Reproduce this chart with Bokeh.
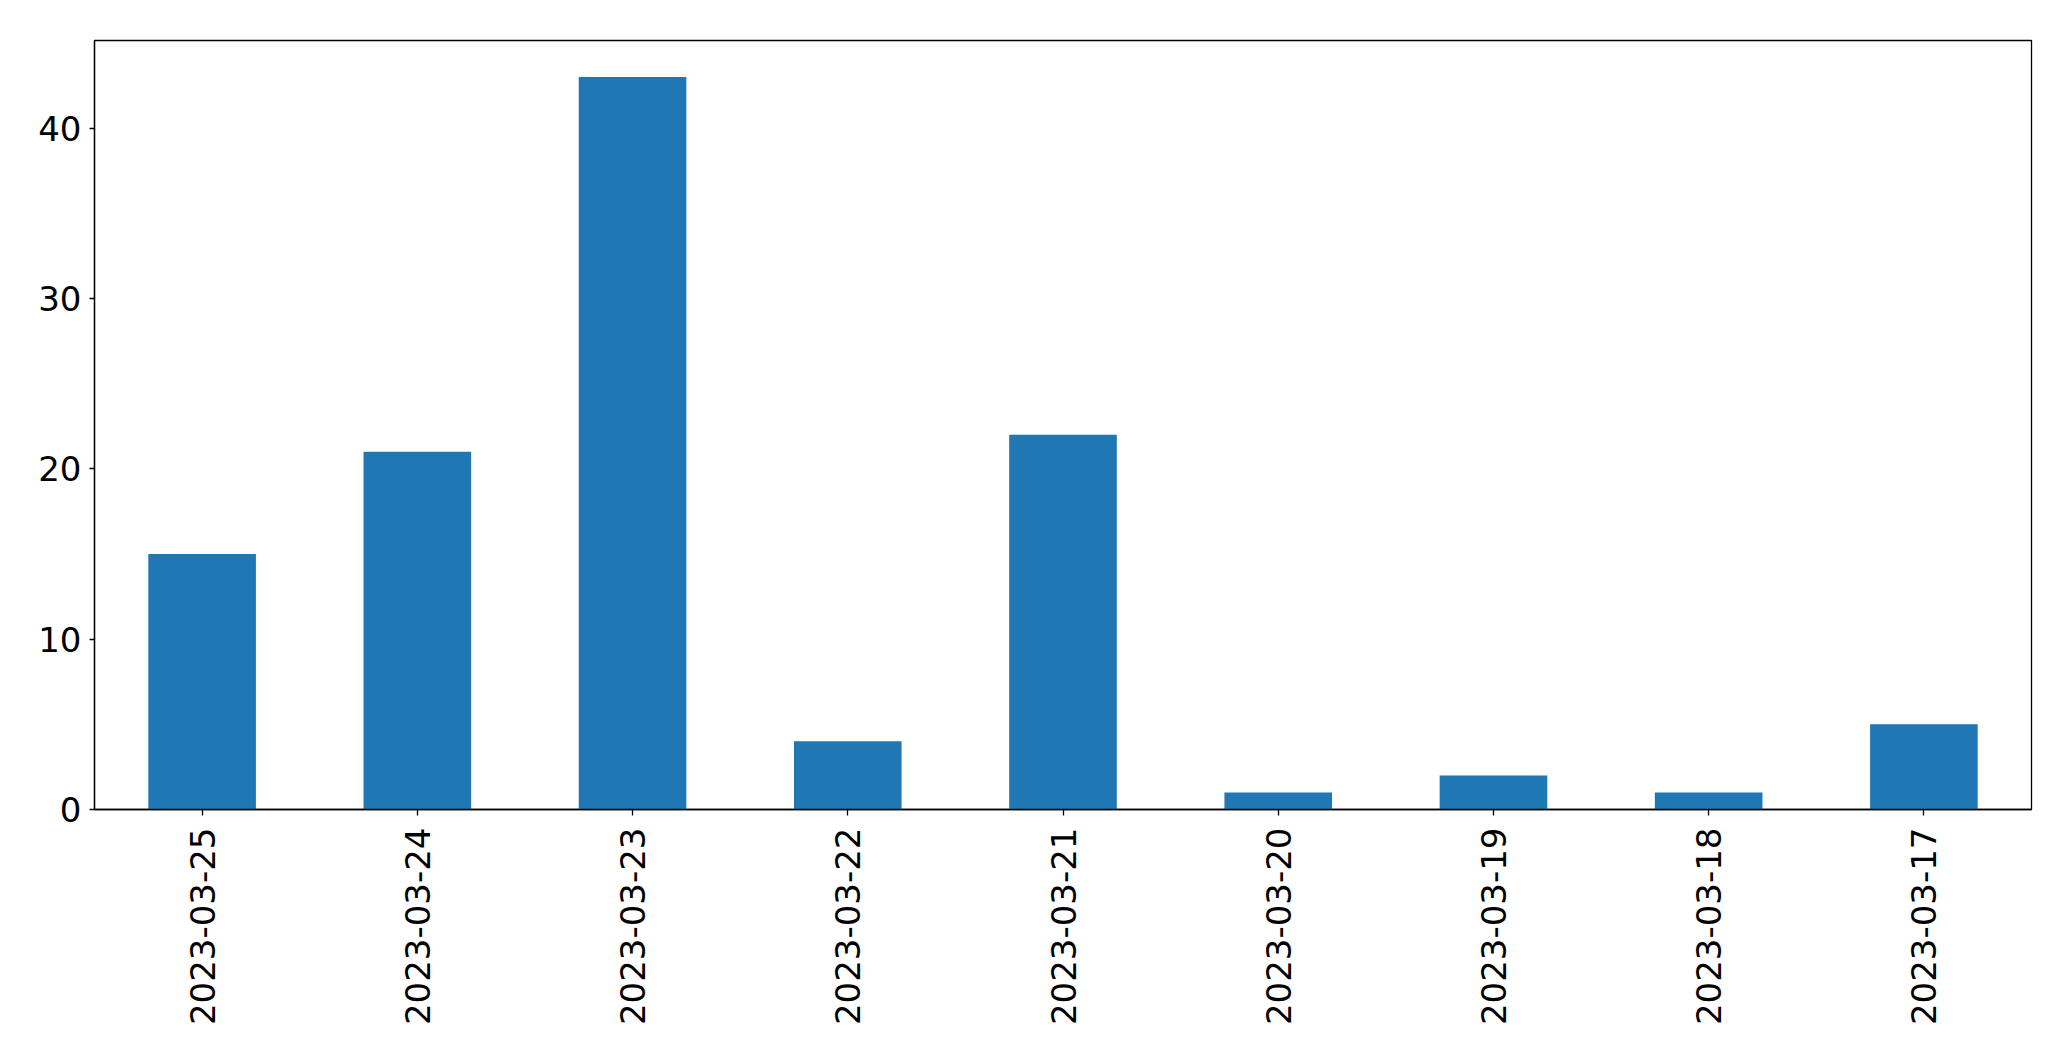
import math
from bokeh.plotting import figure
from bokeh.models import FactorRange, Range1d, FixedTicker, ColumnDataSource
from bokeh.embed import file_html
from bokeh.resources import INLINE

dates = ["2023-03-25", "2023-03-24", "2023-03-23", "2023-03-22", "2023-03-21",
         "2023-03-20", "2023-03-19", "2023-03-18", "2023-03-17"]
counts = [15, 21, 43, 4, 22, 1, 2, 1, 5]
y_ticks = [0, 10, 20, 30, 40]

source = ColumnDataSource(data=dict(dates=dates, counts=counts))

p = figure(x_range=FactorRange(factors=dates), y_range=Range1d(0, max(counts) * 1.05),
           width=2060, height=1050, output_backend="svg", toolbar_location=None,
           min_border_left=94, min_border_right=29, min_border_top=40, min_border_bottom=241)

p.vbar(x="dates", top="counts", width=0.5, source=source,
       fill_color="#1f77b4", line_color=None)

p.xgrid.visible = False
p.ygrid.visible = False
p.outline_line_color = "black"
p.outline_line_width = 1.3
p.outline_line_alpha = 1.0

p.yaxis.ticker = FixedTicker(ticks=y_ticks)
for ax in (p.xaxis[0], p.yaxis[0]):
    ax.major_label_text_font = "DejaVu Sans"
    ax.major_label_text_font_size = "34px"
    ax.major_label_text_color = "black"
    ax.axis_line_color = "black"
    ax.axis_line_width = 1.3
    ax.major_tick_line_color = "black"
    ax.major_tick_line_width = 1.3
    ax.major_tick_in = 0
    ax.minor_tick_line_color = None

p.xaxis.major_tick_out = 6
p.xaxis.major_label_standoff = 12
p.xaxis.major_label_orientation = math.pi / 2
p.yaxis.major_tick_out = 5
p.yaxis.major_label_standoff = 8

open("out.html", "w").write(file_html(p, INLINE))
